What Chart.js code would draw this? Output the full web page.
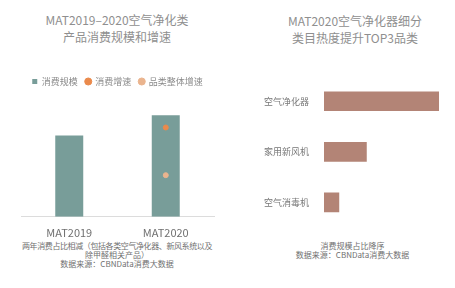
<!DOCTYPE html>
<html>
<head>
<meta charset="utf-8">
<script src="https://cdn.jsdelivr.net/npm/chart.js@4.4.0/dist/chart.umd.min.js"></script>
<style>
  body { margin: 0; background: #fff; font-family: "Noto Sans CJK SC", "Noto Sans", sans-serif; }
  #wrap { position: relative; width: 455px; height: 288px; overflow: hidden; }
  .title { position: absolute; text-align: center; color: #8f8f8f; font-size: 12px; line-height: 17px; }
  .foot { position: absolute; text-align: center; color: #707070; font-size: 8px; line-height: 9.2px; }
  canvas { position: absolute; }
</style>
</head>
<body>
<div id="wrap">
  <div class="title" style="left:0; width:234px; top:11px;">MAT2019–2020空气净化类<br>产品消费规模和增速</div>
  <div class="title" style="left:240px; width:230px; top:12px;">MAT2020空气净化器细分<br>类目热度提升TOP3品类</div>
  <canvas id="left" width="230" height="240" style="left:0; top:0;"></canvas>
  <canvas id="right" width="225" height="240" style="left:230px; top:0;"></canvas>
  <div class="foot" style="left:0; width:234px; top:241px;"><span style="letter-spacing:-0.4px">两年消费占比相减（包括各类空气净化器、新风系统以及</span><br>除甲醛相关产品）<br>数据来源：CBNData消费大数据</div>
  <div class="foot" style="left:250px; width:205px; top:241px;">消费规模占比降序<br>数据来源：CBNData消费大数据</div>
</div>
<script>
const years = ["MAT2019", "MAT2020"]
const scale = [80, 100]
const spendGrowth = [null, 88]
const categoryGrowth = [null, 41]

const topCategories = ["空气净化器", "家用新风机", "空气消毒机"]
const heatShare = [100, 37, 13]

const font = { family: '"Noto Sans CJK SC", "Noto Sans", sans-serif' }

new Chart(document.getElementById('left'), {
    type: 'bar',
    data: {
        labels: years,
        datasets: [{
            label: '消费规模',
            data: scale,
            backgroundColor: '#789d99',
            pointStyle: 'rect',
            barPercentage: 0.58,
            categoryPercentage: 0.5,
            order: 2
        }, {
            type: 'line',
            label: '消费增速',
            data: spendGrowth,
            showLine: false,
            pointStyle: 'circle',
            pointRadius: 2.5,
            backgroundColor: '#ea8a4c',
            borderColor: '#ea8a4c',
            order: 1
        }, {
            type: 'line',
            label: '品类整体增速',
            data: categoryGrowth,
            showLine: false,
            pointStyle: 'circle',
            pointRadius: 2.5,
            backgroundColor: '#eab48e',
            borderColor: '#eab48e',
            order: 0
        }]
    },
    options: {
        responsive: false,
        animation: false,
        layout: { padding: { top: 69, left: 21, right: 16, bottom: 0 } },
        plugins: {
            legend: {
                labels: {
                    usePointStyle: true,
                    boxWidth: 5,
                    boxHeight: 5,
                    padding: 8,
                    color: '#8a8a8a',
                    font: { ...font, size: 9 },
                    sort: (a, b) => a.datasetIndex - b.datasetIndex
                }
            },
            tooltip: { enabled: false }
        },
        scales: {
            x: {
                grid: { display: false },
                border: { color: '#dcdcdc' },
                ticks: { color: '#707070', font: { ...font, size: 11 }, padding: 1 }
            },
            y: { display: false, min: 0, max: 119 }
        }
    }
})

new Chart(document.getElementById('right'), {
    type: 'bar',
    data: {
        labels: topCategories,
        datasets: [{
            data: heatShare,
            backgroundColor: '#b38476',
            barThickness: 19
        }]
    },
    options: {
        indexAxis: 'y',
        responsive: false,
        animation: false,
        layout: { padding: { top: 76, left: 0, right: 6, bottom: 0 } },
        plugins: { legend: { display: false }, tooltip: { enabled: false } },
        scales: {
            x: { display: false, min: 0, max: 109 },
            y: {
                grid: { display: false },
                border: { display: false },
                ticks: { color: '#777', font: { ...font, size: 9 }, padding: 7 },
                afterFit: s => { s.width = 94 }
            }
        }
    }
})
</script>
</body>
</html>
